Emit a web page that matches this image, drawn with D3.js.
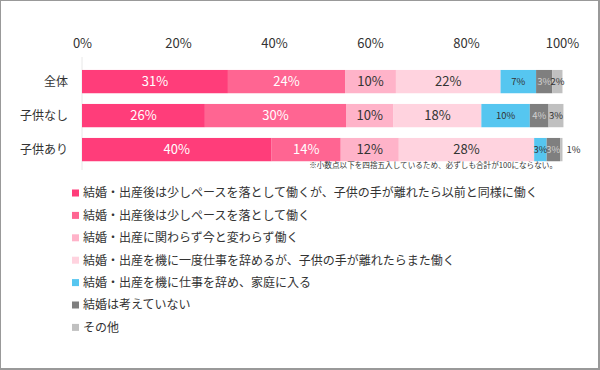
<!DOCTYPE html>
<html><head><meta charset="utf-8">
<script src="https://cdn.jsdelivr.net/npm/d3@7"></script>
<style>
html,body{margin:0;padding:0;background:#fff;}
#frame{position:relative;width:600px;height:370px;box-sizing:border-box;border-style:solid;border-color:#999;border-width:1px 2px 2px 1px;overflow:hidden;}
svg{position:absolute;left:-1px;top:-1px;}
text{font-family:"Noto Sans CJK JP","Noto Sans",sans-serif;}
</style></head>
<body><div id="frame"></div>
<script>
const categories = ["全体", "子供なし", "子供あり"];
const seriesNames = [
  "結婚・出産後は少しペースを落として働くが、子供の手が離れたら以前と同様に働く",
  "結婚・出産後は少しペースを落として働く",
  "結婚・出産に関わらず今と変わらず働く",
  "結婚・出産を機に一度仕事を辞めるが、子供の手が離れたらまた働く",
  "結婚・出産を機に仕事を辞め、家庭に入る",
  "結婚は考えていない",
  "その他"
];
const s1 = [30.4, 25.6, 39.5];
const s2 = [24.4, 29.4, 14.4];
const s3 = [10.6, 9.9, 12.1];
const s4 = [21.8, 18.3, 28.2];
const s5 = [7.4, 10.1, 2.6];
const s6 = [3.4, 3.9, 2.8];
const s7 = [2.1, 3.1, 0.5];
const labels1 = ["31%", "26%", "40%"];
const labels2 = ["24%", "30%", "14%"];
const labels3 = ["10%", "10%", "12%"];
const labels4 = ["22%", "18%", "28%"];
const labels5 = ["7%", "10%", "3%"];
const labels6 = ["3%", "4%", "3%"];
const labels7 = ["2%", "3%", "1%"];
const tickValues = [0, 20, 40, 60, 80, 100];
const note = "※小数点以下を四捨五入しているため、必ずしも合計が100にならない。";

const seriesValues = [s1, s2, s3, s4, s5, s6, s7];
const seriesLabels = [labels1, labels2, labels3, labels4, labels5, labels6, labels7];
const colors = ["#ff3d7a", "#ff6592", "#ffb3c9", "#ffd3df", "#56c6f0", "#7f7f7f", "#c0c0c0"];
const labelColors = ["#ffffff", "#ffffff", "#333333", "#333333", "#333333", "#d0d0d0", "#333333"];
const labelSizes = [13, 13, 13, 13, 9.5, 9.5, 9.5];

const svg = d3.select("#frame").append("svg").attr("width", 600).attr("height", 370);
const x = d3.scaleLinear().domain([0, 100]).range([82, 562]);
const y = d3.scaleBand().domain(categories).range([64.6, 166.6]).paddingInner(0.315).paddingOuter(0.1575);

// faint axis line
svg.append("line").attr("x1", x(0)).attr("x2", x(0)).attr("y1", 57).attr("y2", 170)
  .attr("stroke", "#e8e8e8").attr("stroke-width", 1);

// top axis
const axis = d3.axisTop(x).tickValues(tickValues).tickFormat(d => d + "%").tickSize(0);
const ag = svg.append("g").attr("transform", "translate(0,48)").call(axis);
ag.select(".domain").remove();
ag.selectAll("text").attr("font-size", 13).attr("fill", "#333").attr("y", 0).attr("dy", 0)
  .style("font-family", '"Noto Sans CJK JP", sans-serif');

// category labels
svg.selectAll(".cat").data(categories).enter().append("text")
  .attr("x", 68).attr("y", d => y(d) + y.bandwidth() / 2).attr("dy", "0.36em")
  .attr("text-anchor", "end").attr("font-size", 12).attr("fill", "#333").text(d => d);

// stacked segments
const segs = [];
categories.forEach((c, ci) => {
  let acc = 0;
  seriesValues.forEach((arr, si) => {
    segs.push({c, ci, si, x0: acc, x1: acc + arr[ci], label: seriesLabels[si][ci]});
    acc += arr[ci];
  });
});
svg.selectAll(".seg").data(segs).enter().append("rect")
  .attr("x", d => x(d.x0)).attr("width", d => x(d.x1) - x(d.x0))
  .attr("y", d => y(d.c)).attr("height", y.bandwidth())
  .attr("fill", d => colors[d.si]);

svg.selectAll(".lbl").data(segs).enter().append("text")
  .attr("x", d => (d.x1 - d.x0) < 1.5 ? x(d.x1) + 11 : (x(d.x0) + x(d.x1)) / 2)
  .attr("y", d => y(d.c) + y.bandwidth() / 2).attr("dy", "0.36em")
  .attr("text-anchor", "middle")
  .attr("font-size", d => labelSizes[d.si])
  .attr("fill", d => (d.x1 - d.x0) < 1.5 ? "#333" : labelColors[d.si])
  .text(d => d.label);

// note
svg.append("text").attr("x", 557).attr("y", 165).attr("dy", "0.36em").attr("text-anchor", "end")
  .attr("font-size", 7.6).attr("fill", "#333").text(note);

// legend
const lg = svg.selectAll(".leg").data(seriesNames).enter().append("g")
  .attr("transform", (d, i) => `translate(0,${193 + i * 22.4})`);
lg.append("rect").attr("x", 72).attr("y", -3.5).attr("width", 7).attr("height", 7)
  .attr("fill", (d, i) => colors[i]);
lg.append("text").attr("x", 83).attr("y", 0).attr("dy", "0.36em").attr("font-size", 12)
  .attr("fill", "#333").text(d => d);
</script></body></html>
